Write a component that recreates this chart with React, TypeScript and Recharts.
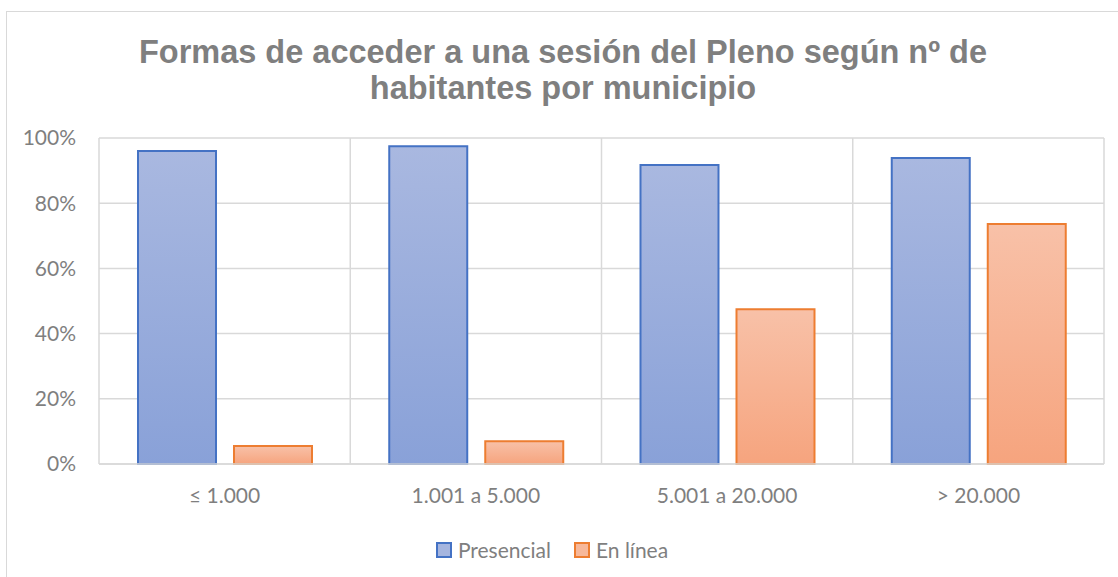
import { Bar, BarChart, CartesianGrid, Legend, ReferenceLine, XAxis, YAxis } from 'recharts';

const categories = ['≤ 1.000', '1.001 a 5.000', '5.001 a 20.000', '> 20.000'];
const presencial = [0.96, 0.975, 0.917, 0.939];
const enLinea = [0.055, 0.07, 0.475, 0.736];
const yTicks = [0, 0.2, 0.4, 0.6, 0.8, 1];

const data = categories.map((name, i) => ({ name, presencial: presencial[i], enLinea: enLinea[i] }));

const series = [
  { key: 'presencial', label: 'Presencial', stroke: '#4472c4', fill: 'url(#gradBlue)', swatch: '#a5b5df' },
  { key: 'enLinea', label: 'En línea', stroke: '#ed7d31', fill: 'url(#gradOrange)', swatch: '#f7b89a' },
];

const gridColor = '#d9d9d9';
const textColor = '#7f7f7f';
const font = 'Lato, "Open Sans", sans-serif';

function LegendContent() {
  return (
    <div style={{ display: 'flex', justifyContent: 'center', alignItems: 'center', gap: 23, fontFamily: font, fontSize: 21, color: textColor }}>
      {series.map((s) => (
        <span key={s.key} style={{ display: 'flex', alignItems: 'center', gap: 6 }}>
          <span style={{ width: 12, height: 12, background: s.swatch, border: `2px solid ${s.stroke}`, display: 'inline-block' }} />
          {s.label}
        </span>
      ))}
    </div>
  );
}

export default function App() {
  return (
    <div style={{ position: 'absolute', left: 0, top: 0, width: 1118, height: 577, overflow: 'hidden', background: '#fff' }}>
      <div style={{ position: 'absolute', left: 6, top: 11, width: 1130, height: 600, border: `1.5px solid ${gridColor}` }} />
      <div
        style={{
          position: 'absolute',
          left: 4,
          top: 34,
          width: 1118,
          textAlign: 'center',
          fontFamily: '"Liberation Sans", Arial, sans-serif',
          fontWeight: 'bold',
          fontSize: 32.5,
          lineHeight: '36px',
          color: textColor,
        }}
      >
        Formas de acceder a una sesión del Pleno según nº de
        <br />
        habitantes por municipio
      </div>
      <BarChart
        width={1118}
        height={577}
        data={data}
        margin={{ top: 138, right: 14, bottom: 49, left: 0 }}
        barSize={78}
        barGap={18}
        style={{ position: 'absolute', left: 0, top: 0 }}
      >
        <defs>
          <linearGradient id="gradBlue" x1="0" y1="0" x2="0" y2="1">
            <stop offset="0%" stopColor="#a9b8e0" />
            <stop offset="100%" stopColor="#89a1d8" />
          </linearGradient>
          <linearGradient id="gradOrange" x1="0" y1="0" x2="0" y2="1">
            <stop offset="0%" stopColor="#f8c1a8" />
            <stop offset="100%" stopColor="#f6a47e" />
          </linearGradient>
        </defs>
        <CartesianGrid vertical={false} stroke={gridColor} strokeWidth={1.5} />
        <XAxis
          dataKey="name"
          height={40}
          axisLine={{ stroke: gridColor, strokeWidth: 1.5 }}
          tickLine={false}
          tickSize={0}
          tickMargin={24}
          tick={{ fill: textColor, fontSize: 21, fontFamily: font }}
        />
        <YAxis
          width={99}
          domain={[0, 1]}
          ticks={yTicks}
          tickFormatter={(v: number) => `${Math.round(v * 100)}%`}
          axisLine={false}
          tickLine={false}
          tickSize={0}
          tickMargin={23}
          tick={{ fill: textColor, fontSize: 21, fontFamily: font }}
        />
        {categories.map((c) => (
          <ReferenceLine key={c} x={c} position="start" stroke={gridColor} strokeWidth={1.5} />
        ))}
        <ReferenceLine x={categories[categories.length - 1]} position="end" stroke={gridColor} strokeWidth={1.5} />
        {series.map((s) => (
          <Bar
            key={s.key}
            dataKey={s.key}
            name={s.label}
            fill={s.fill}
            stroke={s.stroke}
            strokeWidth={2}
            isAnimationActive={false}
          />
        ))}
        <Legend
          verticalAlign="bottom"
          content={<LegendContent />}
          wrapperStyle={{ top: 537, bottom: 'auto', height: 24 }}
        />
      </BarChart>
    </div>
  );
}
